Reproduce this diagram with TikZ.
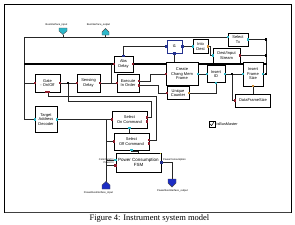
\documentclass[tikz,border=0pt]{standalone}
\usepackage{fontspec}
\setmainfont{Liberation Sans}
\newfontfamily\capfont{Liberation Serif}
\usetikzlibrary{calc,shadows}
\pgfdeclarelayer{background}
\pgfsetlayers{background,main}
\definecolor{pred}{HTML}{8E1B2A}
\definecolor{pcyan}{HTML}{2CB7C9}
\definecolor{pblue}{HTML}{23318F}
\definecolor{porange}{HTML}{D1903A}
\definecolor{iconblue}{HTML}{1C2DC4}
\tikzset{
  blk/.style={draw=black, line width=0.45pt, fill=white, align=center, inner sep=0pt,
    font=\fontsize{4}{4.6}\selectfont,
    drop shadow={shadow xshift=0.8pt, shadow yshift=-0.8pt, opacity=0.9, fill=black!80}},
  wire/.style={draw=black!85, line width=0.5pt},
  bus/.style={draw=black, line width=1.3pt},
  tiny/.style={font=\fontsize{2.6}{3}\selectfont, inner sep=0pt},
  icon/.style={draw=black!70, line width=0.4pt},
}
\newcommand{\portsq}[2]{\fill[#1] (#2) +(-1.2,-1.2) rectangle +(1.2,1.2);}
\begin{document}
\begin{tikzpicture}[x=1pt,y=-1pt]
\useasboundingbox (0,0) rectangle (295,225);
% frame
\draw[line width=0.6pt] (4.5,4.5) rectangle (291,212);
\draw[line width=1.8pt, black!75] (4.5,212.5) -- (291,212.5);

% blocks
\node[blk, minimum width=25pt, minimum height=18pt] (gate) at (47.5,83) {Gate\\- On/Off};
\node[blk, minimum width=23pt, minimum height=18pt] (sense) at (88.5,83) {Sensing\\Delay};
\node[blk, minimum width=22pt, minimum height=18pt] (exec) at (128,83) {Execute\\In Order};
\node[blk, minimum width=19pt, minimum height=16pt] (abs) at (123.5,64) {Abs\\Delay};
\node[blk, draw=pblue, line width=0.8pt, minimum width=15pt, minimum height=13pt] (tone) at (174.5,46.5) {t1};
\node[blk, minimum width=15pt, minimum height=14pt] (into) at (200.5,46.5) {Into\\Dest};
\node[blk, minimum width=20pt, minimum height=13pt] (sel) at (238,39.5) {Select\\Tx};
\node[blk, minimum width=27pt, minimum height=15pt] (dest) at (226.5,55.5) {Dest/Input\\Stream};
\node[blk, minimum width=32pt, minimum height=23pt] (create) at (182,74) {Create\\Chang Mem\\Frame};
\node[blk, minimum width=22pt, minimum height=13pt] (uniq) at (178,93) {Unique\\Counter};
\node[blk, minimum width=18pt, minimum height=17pt] (insid) at (216,74) {Insert\\ID};
\node[blk, minimum width=20pt, minimum height=24pt] (ifs) at (253,74) {Insert\\Frame\\Size};
\node[blk, minimum width=35pt, minimum height=13pt] (dfs) at (253,100.5) {DataFrameSize};
\node[blk, minimum width=22pt, minimum height=26pt] (tad) at (46,119.5) {Target\\Address\\Decoder};
\node[blk, minimum width=35pt, minimum height=17pt] (son) at (129.5,119.5) {Select\\On Command};
\node[blk, minimum width=35pt, minimum height=17pt] (soff) at (131.5,141.5) {Select\\Off Command};
\node[blk, line width=0.7pt, minimum width=45pt, minimum height=19pt, font=\fontsize{4.5}{5.5}\selectfont] (pfsm) at (138.5,162.5) {Power Consumption\\FSM};

% interface icons
\coordinate (busin) at (63,34.5);
\coordinate (busout) at (105.5,35);
\coordinate (pwrin) at (106,181.5);
\coordinate (pwrout) at (172,179);
\filldraw[icon, fill=pcyan] (59,28) -- (67,28) -- (67,31) -- (63,34.5) -- (59,31) -- cycle;
\filldraw[icon, fill=pcyan] (102,35) -- (109,35) -- (109,32) -- (105.5,28.5) -- (102,32) -- cycle;
\filldraw[icon, fill=iconblue] (102,189) -- (110,189) -- (110,185) -- (106,181.5) -- (102,185) -- cycle;
\filldraw[icon, fill=iconblue] (168,179) -- (176,179) -- (176,183) -- (172,187) -- (168,183) -- cycle;

% connectors
\begin{pgfonlayer}{background}
\fill[white] (0,0) rectangle (295,225);
\draw[wire] (busin) -- (63,37);
\draw[wire] (busout) -- (105.5,37);
\draw[wire] (sel.west |- 0,37) -- (24,37) -- (24,119.5) -- (tad.west);
\draw[wire] (24,83) -- (gate.west);
\draw[bus] (24,64) -- (abs.west);
\draw[bus] (abs.east) -- (266,64);
\draw[wire] (abs.north) |- (tone.west);
\draw[wire] (tone.east) -- (into.west);
\draw[wire] (tone.south) -- (tone.south |- 0,64);
\draw[wire] (into.east) -- (210.5,46.5) |- (dest.west);
\draw[wire] (sel.east) -- (266,39.5) -- (266,74);
\draw[wire] (dest.east) -- (266,55.5);
\draw[wire] (ifs.east) -- (266,74);
\draw[wire] (gate.east) -- (sense.west);
\draw[wire] (sense.east) -- (exec.west);
\draw[wire] (111,64) -- (111,83);
\draw[wire] ($(exec.east)+(0,-2)$) -- (150,81) |- (create.west);
\draw[wire] ($(exec.east)+(0,2.5)$) -- (158,85.5) |- (uniq.west);
\draw[wire] (create.east) -- (insid.west);
\draw[wire] (insid.east) -- (ifs.west);
\draw[wire] (232,74) |- (dfs.west);
\draw[wire] (ifs.south) -- (dfs.north);
\draw[wire] (insid.south) |- (uniq.east);
\draw[wire] (68,83) -- (68,101) -- (151,101) |- ($(son.east)+(0,-2)$);
\draw[wire] ($(gate.south)+(1,0)$) -- (48.5,96) -- (156,96) |- ($(soff.east)+(0,-1.5)$);
\draw[wire] (tad.east) -- (son.west);
\draw[wire] (106,119.5) -- (pwrin);
\draw[wire] (106,141.5) -- (soff.west);
\draw[wire] (106,160) -- ($(pfsm.west)+(0,-2.5)$);
\draw[wire] (106,165.5) -- ($(pfsm.west)+(0,3)$);
\draw[wire] (son.south) -- (son.south |- soff.north);
\draw[wire] (soff.south) -- ++(0,1.5) -| (pfsm.north);
\draw[wire] (pfsm.east) -- (172,162.5) -- (pwrout);
\end{pgfonlayer}

% ports
\portsq{pred}{gate.west}
\portsq{pred}{gate.east}
\portsq{pred}{$(gate.south)+(-1.5,0)$}
\portsq{pred}{$(gate.south)+(1,0)$}
\portsq{pred}{sense.west}
\portsq{pred}{sense.east}
\portsq{pred}{exec.west}
\portsq{pred}{$(exec.east)+(0,-2)$}
\portsq{pred}{$(exec.east)+(0,2.5)$}
\portsq{pred}{abs.west}
\portsq{pred}{abs.east}
\portsq{pblue}{abs.north}
\portsq{pblue}{tone.west}
\portsq{pblue}{tone.east}
\portsq{pblue}{tone.south}
\portsq{porange}{into.east}
\portsq{pcyan}{into.west}
\portsq{pcyan}{dest.west}
\portsq{pred}{dest.east}
\portsq{pcyan}{sel.west |- 0,37}
\portsq{pcyan}{sel.east}
\portsq{pred}{create.west}
\portsq{pcyan}{create.east}
\portsq{pred}{uniq.west}
\portsq{porange}{uniq.east}
\portsq{pcyan}{insid.west}
\portsq{pcyan}{insid.east}
\portsq{pcyan}{insid.south}
\portsq{pcyan}{ifs.west}
\portsq{pcyan}{ifs.east}
\portsq{porange}{ifs.south}
\portsq{pred}{dfs.west}
\portsq{pcyan}{tad.west}
\portsq{pcyan}{tad.east}
\portsq{pred}{son.west}
\portsq{pred}{$(son.east)+(0,-2)$}
\portsq{pred}{$(son.east)+(0,2)$}
\portsq{pcyan}{son.south}
\portsq{pred}{soff.west}
\portsq{pred}{$(soff.east)+(0,-1.5)$}
\portsq{pred}{$(soff.east)+(0,2)$}
\portsq{pcyan}{soff.south}
\portsq{pcyan}{$(pfsm.west)+(0,-2.5)$}
\portsq{pred}{$(pfsm.west)+(0,3)$}
\portsq{pblue}{pfsm.east}
\fill[yellow!80!black] (pfsm.north east) +(-1.5,0) rectangle +(0,1.5);
% junction dots
\portsq{black}{68,83}
\portsq{black}{266,39.5}
\portsq{black}{266,55.5}
\portsq{black}{266,64}
\portsq{black}{266,74}
\portsq{black}{232,74}

% labels
\node[tiny] (lbi) at (56.5,25) {BusInterface\_input};
\node[tiny] (lbo) at (98.5,25) {BusInterface\_output};
\node[tiny] (lpi) at (98.5,193) {PowerBusInterface\_input};
\node[tiny] (lpo) at (172.5,191) {PowerBusInterface\_output};
\node[tiny, anchor=south west] (lpc) at (163,161.5) {PowerConsumption};
\node[tiny, anchor=east, align=right] (lcmd) at (114,161.5) {Command In\\Power In};

% isBusMaster checkbox
\node[draw, line width=0.5pt, minimum size=6pt, inner sep=0pt] (chk) at (212,124) {};
\draw[line width=0.5pt] (210.2,124) -- (211.6,125.6) -- (213.8,122.2);
\node[anchor=west, font=\fontsize{3.8}{4}\selectfont, inner sep=0pt] (lbm) at (216.5,124) {isBusMaster};

% caption
\node[font=\capfont\fontsize{8.5}{10}\selectfont, inner sep=0pt] (cap) at (149.5,218.5) {Figure 4: Instrument system model};
\end{tikzpicture}
\end{document}
